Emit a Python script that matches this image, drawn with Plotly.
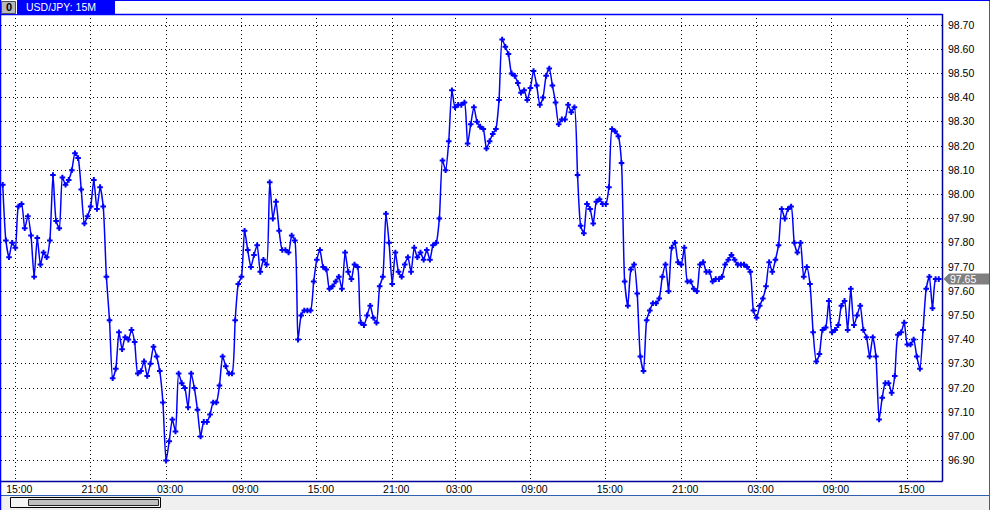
import plotly.graph_objects as go

W, H = 990, 510

# ---- data: USD/JPY 15-minute closes ----
lead = [98.04, 97.81, 97.74, 97.80]  # 14:00 - 14:45
s01 = [97.78, 97.95, 97.96, 97.86, 97.91, 97.83, 97.66, 97.82, 97.71, 97.76, 97.74, 97.81,
       98.08, 97.89, 97.86, 98.07, 98.04, 98.06, 98.10, 98.17, 98.15, 98.02, 97.88, 97.91]
s02 = [97.95, 98.06, 97.94, 98.03, 97.95, 97.66, 97.48, 97.24, 97.28, 97.43, 97.36, 97.41,
       97.40, 97.44, 97.39, 97.26, 97.27, 97.31, 97.25, 97.30, 97.37, 97.33, 97.27, 97.14]
s03 = [96.90, 96.98, 97.07, 97.02, 97.26, 97.22, 97.20, 97.12, 97.26, 97.20, 97.11, 97.00,
       97.06, 97.06, 97.09, 97.14, 97.14, 97.21, 97.33, 97.29, 97.26, 97.26, 97.48, 97.63]
s04 = [97.66, 97.85, 97.77, 97.70, 97.75, 97.79, 97.68, 97.73, 97.71, 98.05, 97.90, 97.97,
       97.85, 97.77, 97.77, 97.76, 97.83, 97.81, 97.40, 97.50, 97.52, 97.52, 97.52, 97.64]
s05 = [97.73, 97.77, 97.70, 97.69, 97.61, 97.62, 97.64, 97.66, 97.61, 97.76, 97.68, 97.65,
       97.71, 97.70, 97.47, 97.46, 97.50, 97.54, 97.49, 97.47, 97.62, 97.66, 97.92, 97.80]
s06 = [97.63, 97.76, 97.68, 97.66, 97.71, 97.74, 97.68, 97.78, 97.74, 97.76, 97.73, 97.77,
       97.73, 97.79, 97.80, 97.90, 98.14, 98.10, 98.22, 98.43]
s07 = [98.36, 98.37, 98.37, 98.38, 98.21, 98.29, 98.36, 98.30, 98.28, 98.27, 98.19, 98.22,
       98.25, 98.27, 98.39, 98.64, 98.61, 98.58, 98.50, 98.49, 98.46, 98.42, 98.43, 98.39]
s08 = [98.44, 98.51, 98.45, 98.37, 98.40, 98.49, 98.52, 98.45, 98.38, 98.29, 98.31, 98.31,
       98.37, 98.34, 98.36, 98.08, 97.87, 97.84, 97.96, 97.94, 97.88, 97.97, 97.98, 97.96]
s09 = [97.96, 98.03, 98.27, 98.26, 98.24, 98.13, 97.64, 97.54, 97.69, 97.71, 97.59, 97.33,
       97.27, 97.48, 97.52, 97.55, 97.55, 97.57, 97.66, 97.71, 97.60, 97.78, 97.80, 97.72]
s10 = [97.71, 97.78, 97.64, 97.64, 97.61, 97.60, 97.71, 97.72, 97.68, 97.68, 97.64, 97.65,
       97.65, 97.66, 97.71, 97.73, 97.75, 97.73, 97.71, 97.71, 97.71, 97.70, 97.68, 97.52]
s11 = [97.49, 97.54, 97.57, 97.62, 97.72, 97.68, 97.73, 97.79, 97.94, 97.90, 97.94, 97.95,
       97.80, 97.76, 97.80, 97.66, 97.70, 97.63, 97.43, 97.31, 97.34, 97.44, 97.45, 97.56]
s12 = [97.43, 97.44, 97.46, 97.54, 97.56, 97.44, 97.61, 97.46, 97.50, 97.54, 97.44, 97.41,
       97.33, 97.41, 97.33, 97.07, 97.16, 97.22, 97.22, 97.18, 97.25, 97.42, 97.43, 97.47]
s13 = [97.38, 97.38, 97.40, 97.33, 97.28, 97.44, 97.61, 97.66, 97.53, 97.65, 97.65]

sessions = [s01, s02, s03, s04, s05, s06, s07, s08, s09, s10, s11, s12, s13]
x_tick_labels = ["15:00", "21:00", "03:00", "09:00", "15:00", "21:00", "03:00",
                 "09:00", "15:00", "21:00", "03:00", "09:00", "15:00"]
y_tick_labels = ["96.90", "97.00", "97.10", "97.20", "97.30", "97.40", "97.50", "97.60",
                 "97.70", "97.80", "97.90", "98.00", "98.10", "98.20", "98.30", "98.40",
                 "98.50", "98.60", "98.70"]
title_text = "USD/JPY: 15M"

# ---- assemble ----
prices = list(lead)
x_tick_vals = []
for s in sessions:
    x_tick_vals.append(len(prices))
    prices.extend(s)
idx = list(range(len(prices)))
y_tick_vals = [float(v) for v in y_tick_labels]
last_price = prices[-1]

# ---- geometry (pixels) ----
PL, PR, PT, PB = 1, 942, 14, 481
XR = [-0.55, 299.03]
YR = [96.8157, 98.7455]


def xp(px):
    return px / W


def yp(py):
    return 1 - py / H


def val_to_py(v):
    return PB - (v - YR[0]) / (YR[1] - YR[0]) * (PB - PT)


BLUE = "#0000ff"
NAVY = "#00009c"
FONT = "Liberation Sans"

fig = go.Figure()
fig.add_trace(go.Scatter(
    x=idx, y=prices, mode="lines+markers",
    line=dict(color=BLUE, width=1.5, shape="spline", smoothing=0.6),
    marker=dict(symbol="cross-thin", size=4, color=BLUE, line=dict(width=2, color=BLUE)),
    hoverinfo="skip", showlegend=False,
))

shapes = []


def rect(x0, y0, x1, y1, fill, line_color=None, lw=0):
    shapes.append(dict(type="rect", xref="paper", yref="paper",
                       x0=xp(x0), x1=xp(x1), y0=yp(y1), y1=yp(y0),
                       fillcolor=fill, line=dict(color=line_color or fill, width=lw),
                       layer="above"))


def line(x0, y0, x1, y1, color, lw=1):
    shapes.append(dict(type="line", xref="paper", yref="paper",
                       x0=xp(x0), x1=xp(x1), y0=yp(y0), y1=yp(y1),
                       line=dict(color=color, width=lw), layer="above"))


# bottom status / scroll area
rect(0, 495.5, 990, 510, "#f0f0f0")
line(0, 495.5, 990, 495.5, "#3060b0", 1)
rect(10.5, 497.5, 160.5, 507.5, "#f4f4f4", "#000000", 1)
rect(28.5, 499.5, 158.5, 505.5, "#c0c0c0", "#202020", 1)

# plot frame
line(0, 14.5, 942.5, 14.5, BLUE, 1.5)
line(942.5, 14, 942.5, 481.5, NAVY, 1.5)
line(0, 481.5, 942.5, 481.5, NAVY, 1.5)
# window frame
line(0.5, 0, 0.5, 510, BLUE, 1.5)
line(989.5, 0, 989.5, 510, "#3060b0", 1)
line(115, 0.5, 990, 0.5, BLUE, 1)

# title tab
rect(17, 0, 115, 14, BLUE)
rect(1.5, 1.5, 15.5, 13.5, "#b8b8b8", "#505050", 1)
line(16.5, 0, 16.5, 14, "#ffffff", 1)

# last-price tag
py_last = val_to_py(last_price)
shapes.append(dict(
    type="path", xref="paper", yref="paper",
    path=(f"M {xp(943.5)} {yp(py_last)} L {xp(949)} {yp(py_last - 5.5)} "
          f"L {xp(989)} {yp(py_last - 5.5)} L {xp(989)} {yp(py_last + 5.5)} "
          f"L {xp(949)} {yp(py_last + 5.5)} Z"),
    fillcolor="#7f7f7f", line=dict(color="#7f7f7f", width=0), layer="above"))

annotations = [
    dict(text=title_text, xref="paper", yref="paper", x=xp(24), y=yp(7.5),
         xanchor="left", yanchor="middle", showarrow=False,
         font=dict(family=FONT, size=10.5, color="#ffffff")),
    dict(text="<b>0</b>", xref="paper", yref="paper", x=xp(8.5), y=yp(7.5),
         xanchor="center", yanchor="middle", showarrow=False,
         font=dict(family=FONT, size=11, color="#000000")),
    dict(text=f"{last_price:.2f}", xref="paper", yref="paper", x=xp(947.5), y=yp(py_last),
         xanchor="left", yanchor="middle", showarrow=False,
         font=dict(family=FONT, size=10.5, color="#ffffff")),
]

grid_common = dict(showgrid=True, gridcolor="#000000", gridwidth=1, griddash="1px,3px",
                   zeroline=False, showline=False, ticks="", fixedrange=True,
                   tickfont=dict(family=FONT, size=10.5, color="#000000"))

fig.update_layout(
    width=W, height=H,
    margin=dict(l=0, r=0, t=0, b=0, pad=0),
    paper_bgcolor="#ffffff", plot_bgcolor="#ffffff",
    xaxis=dict(domain=[xp(PL), xp(PR)], range=XR, tickmode="array",
               tickvals=x_tick_vals, ticktext=x_tick_labels,
               ticklabelshift=4, ticklabelstandoff=0, **grid_common),
    yaxis=dict(domain=[yp(PB), yp(PT)], range=YR, side="right", tickmode="array",
               tickvals=y_tick_vals, ticktext=y_tick_labels,
               ticklabelstandoff=5, **grid_common),
    shapes=shapes,
    annotations=annotations,
    font=dict(family=FONT, size=10.5, color="#000000"),
)

fig.write_html("out.html", config={"displayModeBar": False, "staticPlot": True},
               post_script="document.body.style.margin='0';document.body.style.overflow='hidden';")
